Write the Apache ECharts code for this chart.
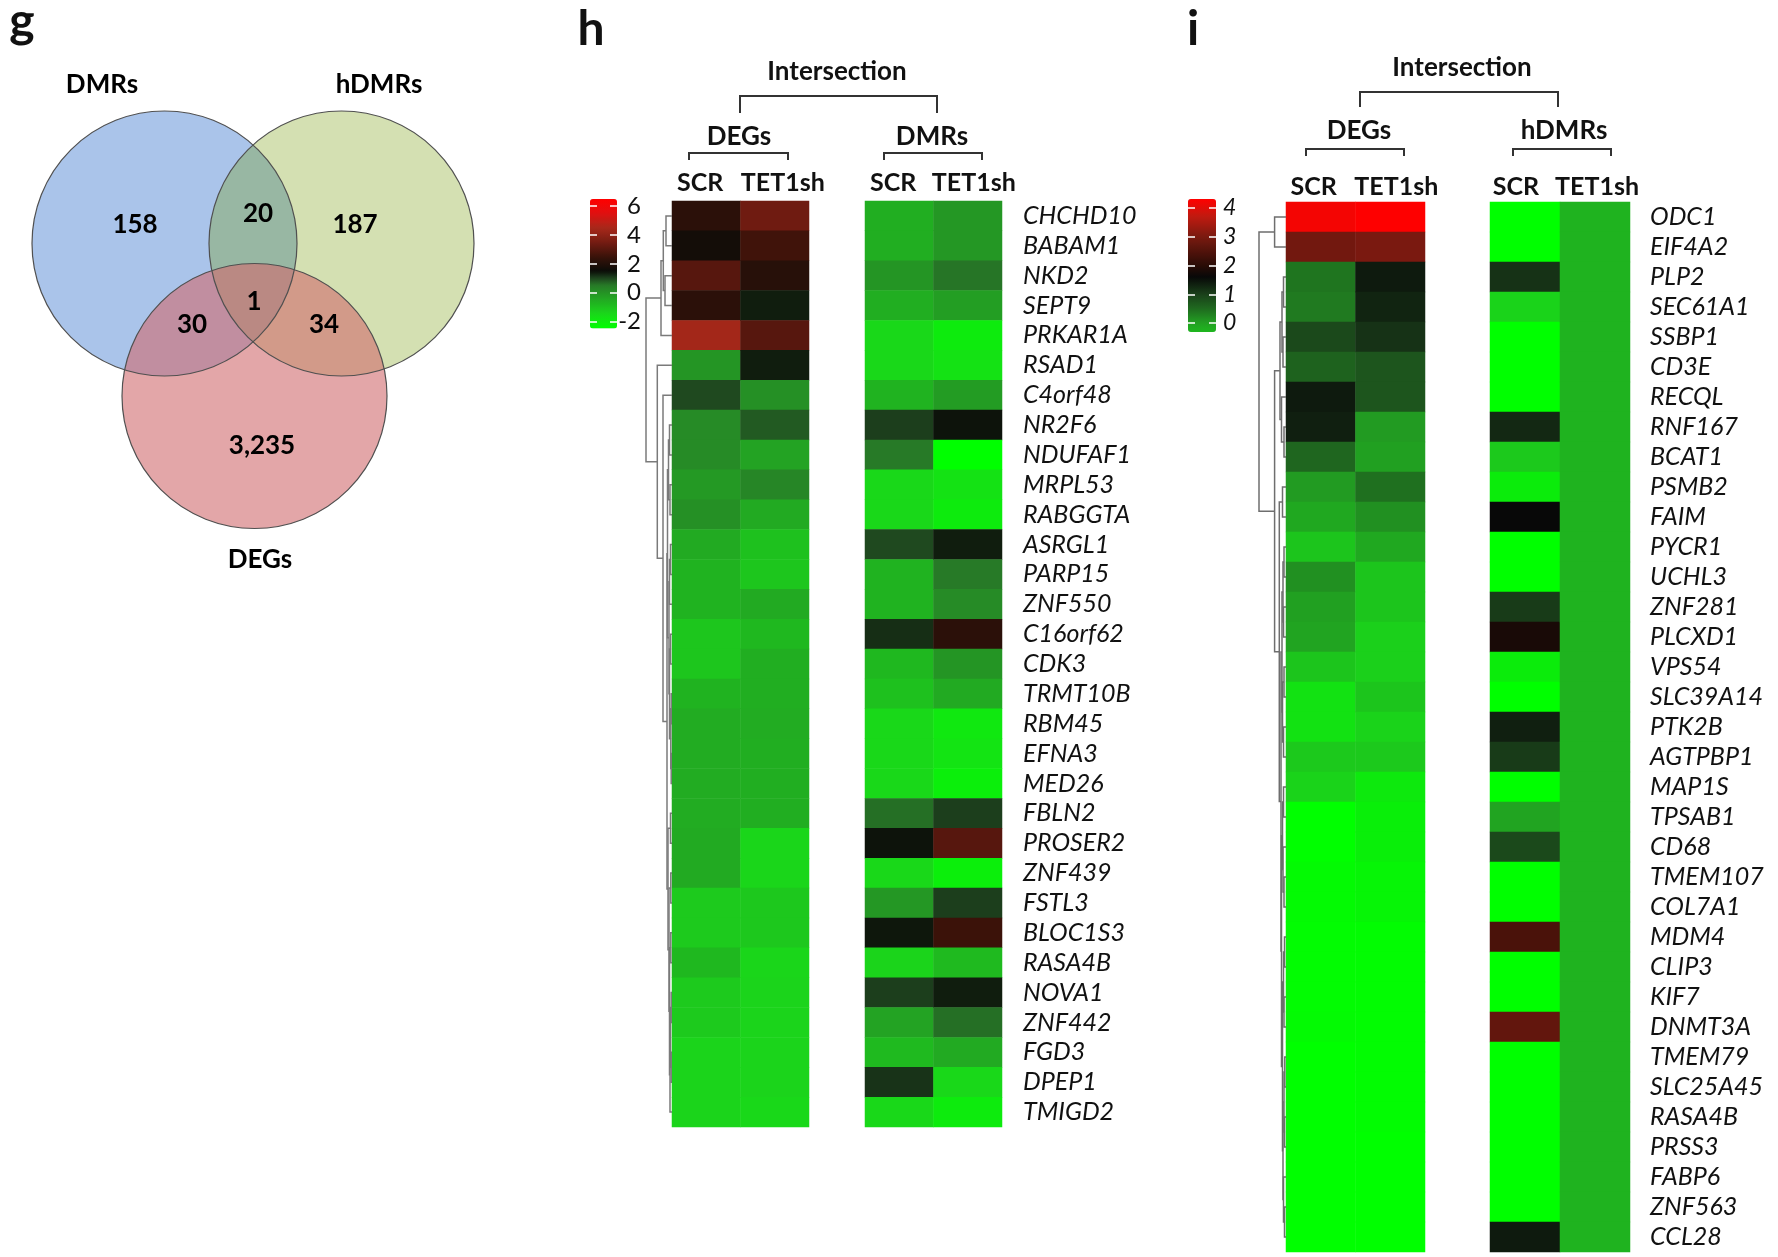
<!DOCTYPE html>
<html><head><meta charset="utf-8">
<script src="https://cdn.jsdelivr.net/npm/echarts@6/dist/echarts.min.js"></script>
<style>html,body{margin:0;padding:0;background:#fff}#c{width:1778px;height:1257px}</style>
</head><body><div id="c"></div>
<script>
// ---------------- DATA ----------------
const vennSets = ['DMRs', 'hDMRs', 'DEGs'];
const vennCenters = [[164.5, 243.5], [341.5, 243.5], [254.5, 396]];
const vennDiameter = [265, 265, 265];
const vennSetLabelPos = [[102, 85], [379, 85], [260, 560]];
const vennCounts = [158, 20, 187, 1, 30, 34, 3235];
const vennCountPos = [[135, 225], [258, 214], [355, 225], [254, 302], [192, 325], [324, 325], [262, 446]];

const sampleCols = ['SCR', 'TET1sh'];

const hGenes = ['CHCHD10','BABAM1','NKD2','SEPT9','PRKAR1A','RSAD1','C4orf48','NR2F6','NDUFAF1','MRPL53','RABGGTA','ASRGL1','PARP15','ZNF550','C16orf62','CDK3','TRMT10B','RBM45','EFNA3','MED26','FBLN2','PROSER2','ZNF439','FSTL3','BLOC1S3','RASA4B','NOVA1','ZNF442','FGD3','DPEP1','TMIGD2'];
const hDegScr = [2.2,1.7,3.0,2.2,4.4,-0.05,0.95,0.15,0.15,-0.15,0.05,-0.5,-0.7,-0.7,-1.1,-1.1,-0.7,-0.55,-0.55,-0.55,-0.55,-0.5,-0.5,-1.2,-1.2,-0.8,-1.2,-1.2,-1.4,-1.4,-1.4];
const hDegTet = [3.4,2.6,2.1,1.35,3.0,1.35,0.05,0.8,-0.35,0.25,-0.5,-1.0,-1.1,-0.5,-0.8,-0.6,-0.6,-0.55,-0.6,-0.6,-0.6,-1.45,-1.45,-1.15,-1.15,-1.45,-1.4,-1.4,-1.4,-1.4,-1.5];
const hDmrScr = [-0.6,-0.6,-0.05,-0.6,-1.5,-1.5,-0.7,1.05,0.5,-1.5,-1.5,0.95,-0.7,-0.7,1.2,-0.8,-1.0,-1.5,-1.5,-1.5,0.6,1.45,-1.5,-0.1,1.4,-1.4,1.05,-0.35,-0.85,1.15,-1.5];
const hDmrTet = [-0.1,-0.1,0.55,-0.25,-2.0,-1.75,-0.2,1.45,-2.5,-1.75,-2.0,1.35,0.5,0.15,2.2,-0.05,-0.5,-1.9,-1.8,-2.1,1.05,3.0,-2.1,1.05,2.5,-0.85,1.35,0.6,-0.5,-1.5,-2.0];
const hBarTicks = [-2, 0, 2, 4, 6];

const iGenes = ['ODC1','EIF4A2','PLP2','SEC61A1','SSBP1','CD3E','RECQL','RNF167','BCAT1','PSMB2','FAIM','PYCR1','UCHL3','ZNF281','PLCXD1','VPS54','SLC39A14','PTK2B','AGTPBP1','MAP1S','TPSAB1','CD68','TMEM107','COL7A1','MDM4','CLIP3','KIF7','DNMT3A','TMEM79','SLC25A45','RASA4B','PRSS3','FABP6','ZNF563','CCL28'];
const iDegScr = [4.2,2.9,0.4,0.35,0.9,0.6,1.4,1.35,0.55,0.05,-0.1,-0.5,0.15,0.0,-0.05,-0.5,-0.95,-0.95,-0.55,-0.7,-1.5,-1.5,-1.4,-1.4,-1.45,-1.45,-1.45,-1.4,-1.5,-1.5,-1.5,-1.5,-1.5,-1.5,-1.5];
const iDegTet = [4.3,3.0,1.4,1.3,1.15,0.75,0.75,0.05,0.0,0.45,0.15,-0.1,-0.5,-0.5,-0.65,-0.65,-0.5,-0.7,-0.55,-1.1,-1.2,-1.2,-1.3,-1.3,-1.45,-1.45,-1.45,-1.45,-1.45,-1.45,-1.45,-1.5,-1.5,-1.5,-1.5];
const iHdmrScr = [-1.5,-1.5,1.15,-0.7,-1.5,-1.5,-1.5,1.25,-0.55,-1.15,1.6,-1.5,-1.5,1.05,1.8,-1.15,-1.5,1.35,1.05,-1.5,-0.05,0.9,-1.5,-1.5,2.4,-1.5,-1.5,2.7,-1.5,-1.5,-1.5,-1.5,-1.5,-1.5,1.4];
const iHdmrTet = [-0.25,-0.25,-0.25,-0.25,-0.25,-0.25,-0.25,-0.25,-0.25,-0.25,-0.25,-0.25,-0.25,-0.25,-0.25,-0.25,-0.25,-0.25,-0.25,-0.25,-0.25,-0.25,-0.25,-0.25,-0.25,-0.25,-0.25,-0.25,-0.25,-0.25,-0.25,-0.25,-0.25,-0.25,-0.25];
const iBarTicks = [0, 1, 2, 3, 4];

// dendrograms: [height, left, right], leaves = row index
const hTree =
  [26,
    [11, [8.7, [6, 0, 1], [7, 2, 3]], 4],
    [14.7, 5,
      [9, 6,
        [5,
          [4.5, [3.5, [2.5, 7, 8], [2, 9, 10]],
                [3, [2.5, [1.5, 11, 12], 13], [2.5, [1.5, 14, 15], [1.2, [0.8, 16, 17], [0.8, 18, 19]]]]],
          [4, [1.5, 20, 21], [3, [1.2, 22, 23], [2.5, [1.2, 24, 25], [2, [1.5, [0.8, 26, 27], [0.8, 28, 29]], 30]]]]
        ]
      ]
    ]
  ];
const iTree =
  [27,
    [11.4, 0, 1],
    [11.4,
      [6, [4, [2.5, 2, 3], [3, 4, 5]], [4.5, 6, [2, 7, 8]]],
      [6.7,
        [3.5, 9, 10],
        [5,
          [4, [3, [2, 11, 12], [2.5, 13, 14]], [3.5, [2, 15, 16], [2.5, 17, 18]]],
          [4.5, [3.5, [2.5, 19, 20], [3, 21, [2, 22, 23]]],
                [3.5, [2.5, [1.5, 24, 25], [2, 26, 27]], [3, [2, [1.2, 28, 29], [1.5, 30, 31]], [2.5, 32, [1.5, 33, 34]]]]]
        ]
      ]
    ]
  ];

// ---------------- STYLE ----------------
const FONT = 'Lato, "Open Sans", sans-serif';
const hColorStops = [[-2.5,'#00ff00'],[-1.5,'#1ad81a'],[-0.5,'#22aa22'],[0.5,'#277a27'],[1.0,'#1e441e'],[1.5,'#0a0c08'],[2.5,'#3a1209'],[3.5,'#751c12'],[4.5,'#a8281a'],[5.5,'#e01010'],[6.5,'#ff0000']];
const iColorStops = [[-1.5,'#00ff00'],[-0.7,'#1ad41a'],[0,'#22a022'],[0.5,'#1f6a1f'],[1.0,'#1a401a'],[1.6,'#080808'],[2.0,'#2a0c06'],[3.0,'#7a1a10'],[3.7,'#c01a10'],[4.31,'#ff0000']];
const vennFill = ['rgb(170,196,234)', 'rgba(112,152,0,0.30)', 'rgba(208,107,110,0.60)'];

function hex2rgb(h){return [parseInt(h.slice(1,3),16),parseInt(h.slice(3,5),16),parseInt(h.slice(5,7),16)];}
function colorAt(stops, v){
  if (v <= stops[0][0]) return stops[0][1];
  for (let i = 1; i < stops.length; i++) {
    if (v <= stops[i][0]) {
      const t = (v - stops[i-1][0]) / (stops[i][0] - stops[i-1][0]);
      const a = hex2rgb(stops[i-1][1]), b = hex2rgb(stops[i][1]);
      return 'rgb(' + a.map((c,k)=>Math.round(c + (b[k]-c)*t)).join(',') + ')';
    }
  }
  return stops[stops.length-1][1];
}
function ramp(stops, min, max, n){const out=[];for(let i=0;i<n;i++)out.push(colorAt(stops,min+(max-min)*i/(n-1)));return out;}
function cells(a, b){const d=[];a.forEach((v,i)=>d.push([0,i,v]));b.forEach((v,i)=>d.push([1,i,v]));return d;}
function dendroSegments(tree){
  const segs=[];
  function walk(n){
    if (typeof n === 'number') return {y:n,h:0};
    const a=walk(n[1]), b=walk(n[2]);
    segs.push({coords:[[a.h,a.y],[n[0],a.y],[n[0],b.y],[b.h,b.y]]});
    return {y:(a.y+b.y)/2,h:n[0]};
  }
  walk(tree);
  return segs;
}

// ---------------- LAYOUT ----------------
const grids = [
  {left:0, top:0, width:480, height:600},          // 0 venn
  {left:672, top:201, width:137, height:926},      // 1 h DEG
  {left:865, top:201, width:137, height:926},      // 2 h DMR
  {left:1286, top:202, width:139, height:1050},    // 3 i DEG
  {left:1490, top:202, width:140, height:1050},    // 4 i hDMR
  {left:640, top:201, width:32, height:926},       // 5 h dendro
  {left:1250, top:202, width:36, height:1050},     // 6 i dendro
  {left:590, top:199, width:27, height:129.6},     // 7 h bar
  {left:1188, top:199, width:28, height:133}       // 8 i bar
];

const hidden = {show:false};
const headFont = {fontFamily:FONT, fontWeight:'bold', fontSize:25, color:'#111'};
const catTop = (g, padL, padR, margin) => ({gridIndex:g, type:'category', data:sampleCols, position:'top',
  axisLine:hidden, axisTick:hidden, splitLine:hidden,
  axisLabel:{interval:0, margin:margin,
    formatter:(v)=> v === 'SCR' ? '{l|' + v + '}' : '{r|' + v + '}',
    rich:{l:Object.assign({padding:[0,padL,0,0]}, headFont), r:Object.assign({padding:[0,0,0,padR]}, headFont)}}});
const geneAxis = (g, genes, showLabels, margin) => ({gridIndex:g, type:'category', data:genes, inverse:true, position:'right',
  axisLine:hidden, axisTick:hidden, splitLine:hidden,
  axisLabel:{show:showLabels, interval:0, fontFamily:FONT, fontStyle:'italic', fontSize:25, color:'#111', margin:margin}});
const barAxis = (g, min, max, ticks, pos, label) => ({gridIndex:g, type:'value', min:min, max:max, position:pos, z:10,
  axisLine:hidden, splitLine:hidden,
  axisTick:{show:true, inside:true, length:7, customValues:ticks, lineStyle:{color:'#ffffff', width:1.5}},
  axisLabel: label ? Object.assign({show:true, customValues:ticks, fontFamily:FONT, color:'#111'}, label) : {show:false}});

const xAxes = [
  {gridIndex:0, type:'value', min:0, max:480, show:false},
  catTop(1, 12, 16, 6), catTop(2, 12, 12, 6), catTop(3, 14, 12, 3), catTop(4, 18, 4, 3),
  {gridIndex:5, type:'value', min:0, max:32, inverse:true, show:false},
  {gridIndex:6, type:'value', min:0, max:36, inverse:true, show:false},
  {gridIndex:7, type:'value', min:0, max:1, show:false},
  {gridIndex:8, type:'value', min:0, max:1, show:false}
];
const yAxes = [
  {gridIndex:0, type:'value', min:0, max:600, inverse:true, show:false},
  geneAxis(1, hGenes, false, 0),
  geneAxis(2, hGenes, true, 21),
  geneAxis(3, iGenes, false, 0),
  geneAxis(4, iGenes, true, 20),
  {gridIndex:5, type:'value', min:-0.5, max:hGenes.length-0.5, inverse:true, show:false},
  {gridIndex:6, type:'value', min:-0.5, max:iGenes.length-0.5, inverse:true, show:false},
  barAxis(7, -2.5, 6.5, hBarTicks, 'left', null),
  barAxis(7, -2.5, 6.5, hBarTicks, 'right', {fontSize:24, margin:24, align:'right'}),
  barAxis(8, -0.31, 4.31, iBarTicks, 'left', null),
  barAxis(8, -0.31, 4.31, iBarTicks, 'right', {fontSize:23, fontStyle:'italic', margin:7, align:'left'})
];

const vennLabel = {show:true, position:'inside', formatter:'{t|{b}}', opacity:1,
  rich:{t:{fontFamily:FONT, fontWeight:'bold', fontSize:26, color:'#000'}}};
const series = [
  {type:'scatter', xAxisIndex:0, yAxisIndex:0, silent:true, z:1,
    itemStyle:{opacity:1},
    data: vennCenters.map((c,i)=>({value:c, symbolSize:vennDiameter[i], itemStyle:{color:vennFill[i], opacity:1}}))},
  {type:'scatter', xAxisIndex:0, yAxisIndex:0, silent:true, z:2,
    data: vennCenters.map((c,i)=>({value:c, symbolSize:vennDiameter[i]})),
    itemStyle:{color:'rgba(0,0,0,0)', borderColor:'#505050', borderWidth:1.2, opacity:1}},
  {type:'scatter', xAxisIndex:0, yAxisIndex:0, silent:true, z:3, symbolSize:1,
    itemStyle:{color:'rgba(0,0,0,0)', opacity:1},
    data: vennCounts.map((v,i)=>({value:vennCountPos[i], name:v.toLocaleString('en-US')})),
    label: vennLabel},
  {type:'scatter', xAxisIndex:0, yAxisIndex:0, silent:true, z:3, symbolSize:1,
    itemStyle:{color:'rgba(0,0,0,0)', opacity:1},
    data: vennSets.map((s,i)=>({value:vennSetLabelPos[i], name:s})),
    label: vennLabel},
  {type:'heatmap', xAxisIndex:1, yAxisIndex:1, data:cells(hDegScr,hDegTet), silent:true},
  {type:'heatmap', xAxisIndex:2, yAxisIndex:2, data:cells(hDmrScr,hDmrTet), silent:true},
  {type:'heatmap', xAxisIndex:3, yAxisIndex:3, data:cells(iDegScr,iDegTet), silent:true},
  {type:'heatmap', xAxisIndex:4, yAxisIndex:4, data:cells(iHdmrScr,iHdmrTet), silent:true},
  {type:'lines', coordinateSystem:'cartesian2d', xAxisIndex:5, yAxisIndex:5, polyline:true, silent:true,
    data:dendroSegments(hTree), lineStyle:{color:'#7a7a7a', width:1.5, opacity:1}},
  {type:'lines', coordinateSystem:'cartesian2d', xAxisIndex:6, yAxisIndex:6, polyline:true, silent:true,
    data:dendroSegments(iTree), lineStyle:{color:'#6e6e6e', width:1.5, opacity:1}},
  {type:'scatter', xAxisIndex:8, yAxisIndex:9, data:[], silent:true}
];

const visualMap = [
  {type:'continuous', seriesIndex:[4,5], min:-2.5, max:6.5, calculable:false, show:true, hoverLink:false,
    orient:'vertical', left:590, top:199, itemWidth:27, itemHeight:129.6, padding:0, z:2,
    inRange:{color:ramp(hColorStops,-2.5,6.5,61)}},
  {type:'continuous', seriesIndex:[6,7], min:-1.5, max:4.31, show:false,
    inRange:{color:ramp(iColorStops,-1.5,4.31,61)}},
  {type:'continuous', seriesIndex:[10], min:-0.31, max:4.31, calculable:false, show:true, hoverLink:false,
    orient:'vertical', left:1188, top:199, itemWidth:28, itemHeight:133, padding:0, z:2,
    inRange:{color:ramp(iColorStops,-0.31,4.31,61)}}
];

const T = (text, x, y, size) => ({type:'text', x:x, y:y, silent:true,
  style:{text:text, font:'bold ' + size + 'px ' + FONT, fill:'#111', align:'center', verticalAlign:'middle'}});
const B = (x1, x2, y, y2) => ({type:'polyline', silent:true, shape:{points:[[x1,y2],[x1,y],[x2,y],[x2,y2]]},
  style:{stroke:'#333', lineWidth:2, fill:null}});

const graphic = [
  T('g', 22, 22, 48), T('h', 591, 30, 48), T('i', 1193, 30, 48),
  T('Intersection', 837, 72, 26), B(740, 937, 96, 113),
  T('DEGs', 739, 137, 26), B(689, 788, 153, 160),
  T('DMRs', 932, 137, 26), B(884, 982, 153, 160),
  T('Intersection', 1462, 68, 26), B(1360, 1558, 92, 107),
  T('DEGs', 1359, 131, 26), B(1306, 1404, 149, 156),
  T('hDMRs', 1564, 131, 26), B(1513, 1611, 149, 156)
];

const chart = echarts.init(document.getElementById('c'), null, {renderer:'canvas'});
chart.setOption({
  backgroundColor:'#ffffff', animation:false,
  grid:grids, xAxis:xAxes, yAxis:yAxes, series:series, visualMap:visualMap, graphic:graphic
});
</script></body></html>
